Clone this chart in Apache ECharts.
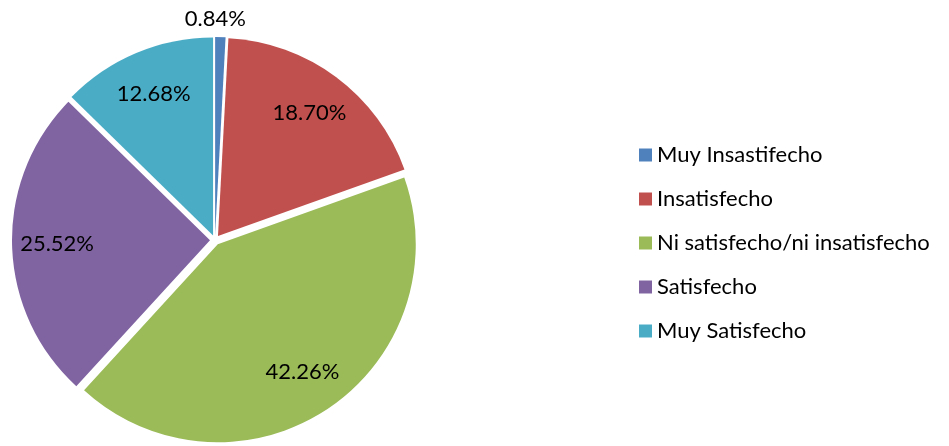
<!DOCTYPE html>
<html>
<head>
<meta charset="utf-8">
<script src="https://cdn.jsdelivr.net/npm/echarts@6/dist/echarts.min.js"></script>
<style>
  html, body { margin: 0; padding: 0; background: #fff; }
  #main { width: 949px; height: 446px; }
</style>
</head>
<body>
<div id="main"></div>
<script>
var categories = ['Muy Insastifecho', 'Insatisfecho', 'Ni satisfecho/ni insatisfecho', 'Satisfecho', 'Muy Satisfecho'];
var percents = [0.84, 18.70, 42.26, 25.52, 12.68];
var colors = ['#4F81BD', '#C0504D', '#9BBB59', '#8064A2', '#4BACC6'];

var myChart = echarts.init(document.getElementById('main'));

var pieData = [];
var labelData = [];
for (var i = 0; i < categories.length; ++i) {
    pieData.push({
        name: categories[i],
        value: percents[i],
        selected: true,
        itemStyle: { color: colors[i] }
    });
    var item = { name: categories[i], value: percents[i], selected: true };
    if (i === 0) {
        // tiny slice: label sits above the pie
        item.label = { position: 'outside' };
        item.labelLine = { show: false, length: 14, length2: 0 };
    }
    labelData.push(item);
}

var option = {
    animation: false,
    legend: {
        orient: 'vertical',
        left: 634,
        top: 139,
        itemWidth: 13,
        itemHeight: 13,
        itemGap: 22,
        icon: 'rect',
        data: categories,
        textStyle: {
            fontFamily: 'Lato',
            fontSize: 22,
            lineHeight: 22,
            color: '#000'
        }
    },
    series: [{
        name: 'main',
        type: 'pie',
        center: [215, 240],
        radius: [0, 198],
        startAngle: 90,
        clockwise: true,
        selectedMode: 'multiple',
        selectedOffset: 5,
        silent: true,
        label: { show: false },
        labelLine: { show: false },
        itemStyle: { borderWidth: 0 },
        select: { itemStyle: { borderWidth: 0 } },
        data: pieData
    }, {
        name: 'labels',
        type: 'pie',
        center: [215, 240],
        radius: [102, 198],
        startAngle: 90,
        clockwise: true,
        selectedMode: 'multiple',
        selectedOffset: 5,
        silent: true,
        itemStyle: { color: 'rgba(0,0,0,0)', borderWidth: 0 },
        select: { itemStyle: { color: 'rgba(0,0,0,0)', borderWidth: 0 } },
        label: {
            show: true,
            position: 'inside',
            fontFamily: 'Lato',
            fontSize: 22,
            color: '#000',
            formatter: function (p) {
                return p.value.toFixed(2) + '%';
            }
        },
        labelLayout: function (params) {
            // center the small slice's label over the top of the pie
            if (params.dataIndex === 0) {
                return { dx: -41, dy: -4 };
            }
        },
        labelLine: { show: false },
        data: labelData
    }]
};
myChart.setOption(option);
</script>
</body>
</html>
